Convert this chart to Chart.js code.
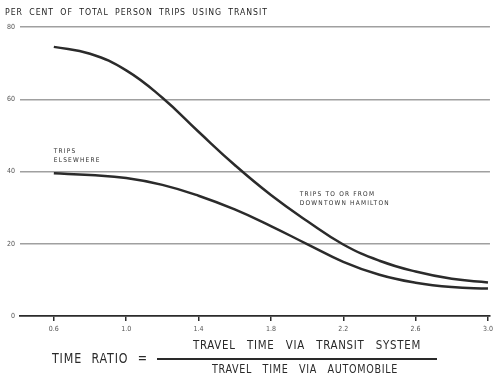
<!DOCTYPE html>
<html>
<head>
<meta charset="utf-8">
<script src="https://cdn.jsdelivr.net/npm/chart.js@4.4.1/dist/chart.umd.min.js"></script>
<style>
  html, body { margin: 0; padding: 0; background: #fff; }
  #wrap { position: relative; width: 497px; height: 381px; overflow: hidden; }
  canvas { position: absolute; left: 0; top: 0; }
  .t { position: absolute; white-space: nowrap; color: #2a2a2a; font-family: "DejaVu Sans Condensed", "DejaVu Sans", sans-serif; transform-origin: 0 0; line-height: 1; }
</style>
</head>
<body>
<div id="wrap">
  <canvas id="c" width="497" height="381"></canvas>
  <div class="t fit" data-w="263" style="left:5px; top:8px; font-size:9px; letter-spacing:1px; word-spacing:3px; color:#222;">PER CENT OF TOTAL PERSON TRIPS USING TRANSIT</div>
  <div class="t fit" data-w="96" style="left:52px; top:351px; font-size:14.5px; letter-spacing:1px; word-spacing:6px;">TIME RATIO =</div>
  <div class="t fit" data-w="228" style="left:193px; top:339px; font-size:12.5px; letter-spacing:0.8px; word-spacing:8px;">TRAVEL TIME VIA TRANSIT SYSTEM</div>
  <div style="position:absolute; left:157px; top:358px; width:280px; height:1.5px; background:#2a2a2a;"></div>
  <div class="t fit" data-w="186" style="left:212px; top:363px; font-size:12.5px; letter-spacing:0.8px; word-spacing:8px;">TRAVEL TIME VIA AUTOMOBILE</div>
</div>
<script>
const timeRatio = [0.6, 0.8, 1.0, 1.2, 1.4, 1.6, 1.8, 2.0, 2.2, 2.4, 2.6, 2.8, 3.0];
const downtownTrips = [74.5, 72.6, 68, 60.4, 51, 41.8, 33.5, 26.3, 19.8, 15.3, 12.3, 10.3, 9.3];
const elsewhereTrips = [39.5, 39, 38.2, 36.3, 33.3, 29.5, 24.9, 19.9, 15.0, 11.4, 9.2, 8.0, 7.6];
const xTickValues = [0.6, 1.0, 1.4, 1.8, 2.2, 2.6, 3.0];
const yTickValues = [0, 20, 40, 60, 80];
const annotations = [
  { lines: ["TRIPS", "ELSEWHERE"], x: 0.6, y: 45.5 },
  { lines: ["TRIPS TO OR FROM", "DOWNTOWN HAMILTON"], x: 1.96, y: 33.6 }
];

document.querySelectorAll('.fit').forEach(el => {
  const w = el.getBoundingClientRect().width;
  el.style.transform = 'scaleX(' + (parseFloat(el.dataset.w) / w) + ')';
});

const ink = '#2b2b2b';
const toXY = (xs, ys) => xs.map((x, i) => ({ x, y: ys[i] }));

const labelPlugin = {
  id: 'labels',
  afterDatasetsDraw(chart) {
    const { ctx, scales } = chart;
    ctx.save();
    ctx.fillStyle = '#2e2e2e';
    ctx.font = '6.5px "DejaVu Sans Condensed", sans-serif';
    ctx.letterSpacing = '1.2px';
    ctx.textBaseline = 'middle';
    annotations.forEach(a => {
      const px = scales.x.getPixelForValue(a.x);
      const py = scales.y.getPixelForValue(a.y);
      a.lines.forEach((l, i) => ctx.fillText(l, px, py + i * 8.5));
    });
    ctx.restore();
  }
};

new Chart(document.getElementById('c'), {
  type: 'line',
  data: {
    datasets: [
      { data: toXY(timeRatio, downtownTrips), borderColor: ink, borderWidth: 2.5, pointRadius: 0, tension: 0.45, fill: false },
      { data: toXY(timeRatio, elsewhereTrips), borderColor: ink, borderWidth: 2.5, pointRadius: 0, tension: 0.45, fill: false }
    ]
  },
  options: {
    responsive: false,
    animation: false,
    layout: { padding: { top: 27, right: 5, bottom: 45, left: 0 } },
    plugins: { legend: { display: false }, tooltip: { enabled: false } },
    scales: {
      x: {
        type: 'linear', min: 0.413, max: 3.011,
        afterBuildTicks: s => { s.ticks = xTickValues.map(v => ({ value: v })); },
        afterFit: s => { s.height = 20; },
        ticks: { callback: v => v.toFixed(1), font: { size: 7, family: 'DejaVu Sans Condensed' }, color: '#555', padding: 4, maxRotation: 0 },
        grid: { drawOnChartArea: false, drawTicks: true, tickLength: 5, color: ink, lineWidth: 1.5 },
        border: { display: true, color: ink, width: 1.8 }
      },
      y: {
        min: 0, max: 80,
        afterBuildTicks: s => { s.ticks = yTickValues.map(v => ({ value: v })); },
        afterFit: s => { s.width = 20; },
        ticks: { font: { size: 7, family: 'DejaVu Sans Condensed' }, color: '#555', padding: 5 },
        grid: { color: c => c.tick && c.tick.value === 0 ? 'rgba(0,0,0,0)' : '#a0a0a0', lineWidth: 1.5, drawTicks: false },
        border: { display: false }
      }
    }
  },
  plugins: [labelPlugin]
});
</script>
</body>
</html>
